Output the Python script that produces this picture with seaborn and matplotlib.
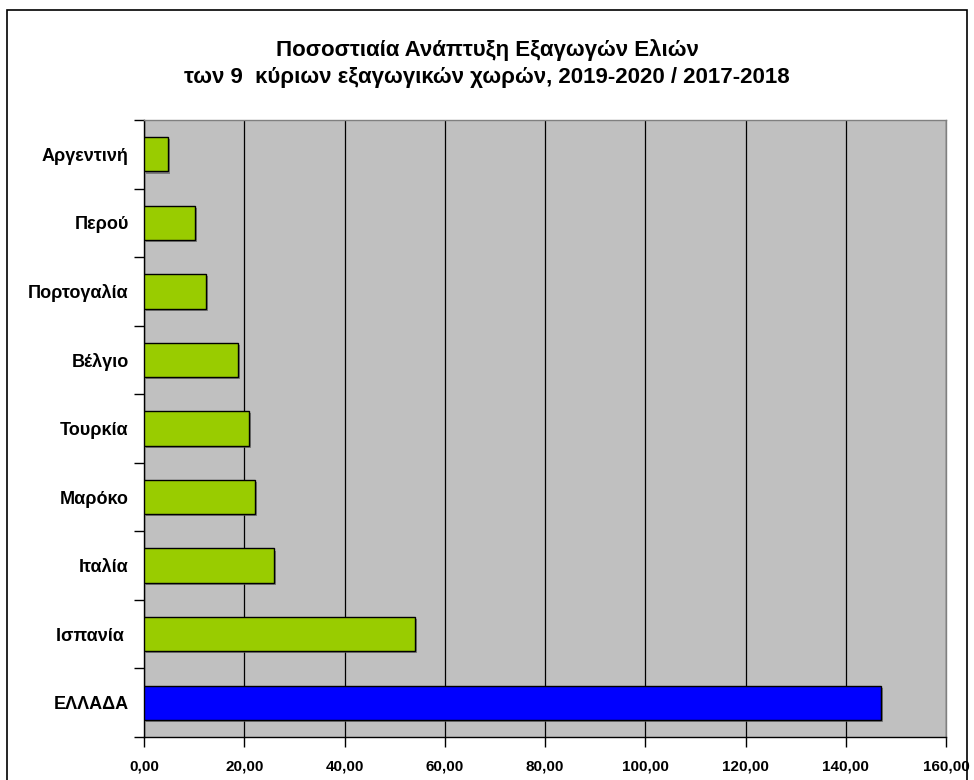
import numpy as np
import pandas as pd
import seaborn as sns
import matplotlib
import matplotlib.pyplot as plt
import matplotlib.patheffects as pe
from matplotlib.ticker import MultipleLocator, FixedLocator, FuncFormatter

# δεδομένα (από πάνω προς τα κάτω)
countries = ['Αργεντινή', 'Περού', 'Πορτογαλία', 'Βέλγιο', 'Τουρκία',
             'Μαρόκο', 'Ιταλία', 'Ισπανία ', 'ΕΛΛΑΔΑ']
growth = [4.7, 10.2, 12.4, 18.7, 21.0, 22.2, 26.0, 54.1, 147.0]
bar_colors = ['#99CC00'] * 8 + ['#0000FF']

sns.set_theme(style='white')
plt.rcParams['font.family'] = ['Liberation Sans', 'DejaVu Sans']
plt.rcParams['font.weight'] = 'bold'
plt.rcParams['text.color'] = 'black'
plt.rcParams['xtick.color'] = 'black'
plt.rcParams['ytick.color'] = 'black'

df = pd.DataFrame({'country': countries, 'growth': growth})

fig = plt.figure(figsize=(9.74, 7.8), dpi=100)
ax = fig.add_axes([144 / 974, 1 - 737 / 780, (946 - 144) / 974, (737 - 120) / 780])

sns.barplot(data=df, x='growth', y='country', hue='country', palette=bar_colors,
            legend=False, orient='h', width=0.5, edgecolor='black', linewidth=1,
            saturation=1, ax=ax, zorder=3)

# σκιά στις μπάρες (όπως στο Excel)
for p in ax.patches:
    p.set_path_effects([pe.SimplePatchShadow(offset=(1.5, -1.5), shadow_rgbFace='#606060', alpha=0.7),
                        pe.Normal()])

ax.set_facecolor('#C0C0C0')
ax.set_xlim(0, 160)
ax.set_ylim(len(countries) - 0.5, -0.5)
ax.xaxis.set_major_locator(MultipleLocator(20))
ax.xaxis.set_major_formatter(FuncFormatter(lambda v, pos: f'{v:.2f}'.replace('.', ',')))
ax.grid(axis='x', color='black', linewidth=0.9, zorder=0)
ax.set_axisbelow(True)

for s in ['top', 'right']:
    ax.spines[s].set_color('#808080')
    ax.spines[s].set_linewidth(1)
for s in ['left', 'bottom']:
    ax.spines[s].set_color('black')
    ax.spines[s].set_linewidth(1)

# τικ ανάμεσα στις κατηγορίες
ax.yaxis.set_minor_locator(FixedLocator(np.arange(-0.5, len(countries), 1)))
ax.tick_params(axis='y', which='major', length=0, pad=11, labelsize=13, labelcolor='black')
ax.tick_params(axis='y', which='minor', left=True, length=7, width=1, color='black')
ax.tick_params(axis='x', which='major', bottom=True, length=7, width=1, color='black',
               pad=9, labelsize=11, labelcolor='black')
for lbl in ax.get_yticklabels() + ax.get_xticklabels():
    lbl.set_fontweight('bold')

ax.set_xlabel('')
ax.set_ylabel('')

fig.text(0.5, 1 - 50 / 780, 'Ποσοστιαία Ανάπτυξη Εξαγωγών Ελιών', ha='center', va='center',
         fontsize=16, fontweight='bold', color='black')
fig.text(0.5, 1 - 78 / 780, 'των 9  κύριων εξαγωγικών χωρών, 2019-2020 / 2017-2018', ha='center',
         va='center', fontsize=16, fontweight='bold', color='black')

# πλαίσιο γραφήματος
frame = plt.Rectangle((7 / 974, -0.05), (967 - 7) / 974, 1 - 10 / 780 + 0.05,
                      transform=fig.transFigure, fill=False, edgecolor='black', linewidth=1.2)
fig.add_artist(frame)

fig.savefig('out.png', dpi=100)
